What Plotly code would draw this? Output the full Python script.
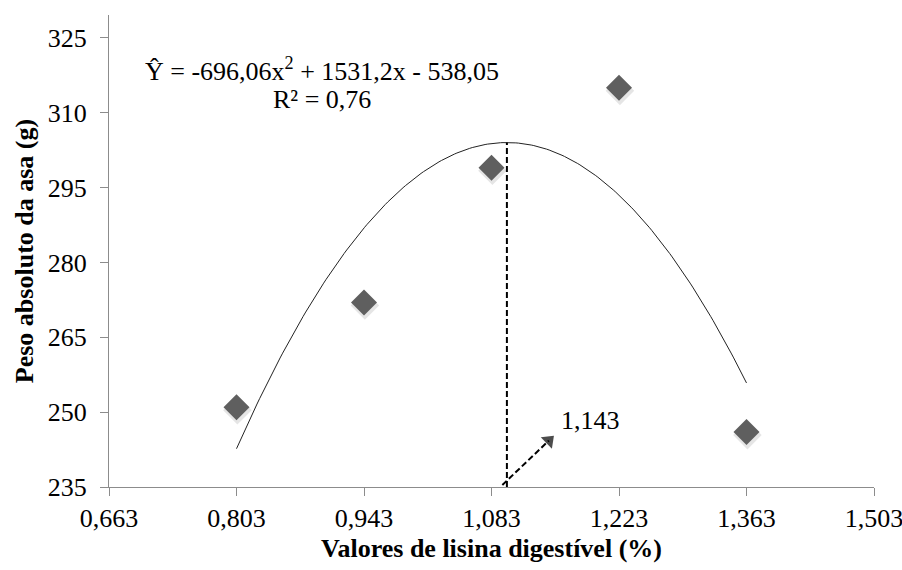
import numpy as np
import plotly.graph_objects as go

# Observed means
lisina = [0.803, 0.943, 1.083, 1.223, 1.363]
peso_asa = [251, 272, 299, 315, 246]

# Quadratic fit coefficients (a x^2 + b x + c)
coef_a, coef_b, coef_c = -696.06, 1531.2, -538.05
r2_text = "R² = 0,76"
eq_text = "Ŷ = -696,06x<sup>2</sup> + 1531,2x - 538,05"

# Axis ticks
x_ticks = [0.663, 0.803, 0.943, 1.083, 1.223, 1.363, 1.503]
x_ticktext = ["0,663", "0,803", "0,943", "1,083", "1,223", "1,363", "1,503"]
y_ticks = [235, 250, 265, 280, 295, 310, 325]

# Optimum marker label
opt_label = "1,143"

xs = np.linspace(min(lisina), max(lisina), 200)
ys = coef_a * xs**2 + coef_b * xs + coef_c
x_vertex = -coef_b / (2 * coef_a)
y_vertex = coef_a * x_vertex**2 + coef_b * x_vertex + coef_c

serif = "Liberation Serif, Times New Roman, serif"
axis_col = "#8c8c8c"
fs = 26
dash_style = "6px,3px"

fig = go.Figure()

# fitted curve
fig.add_trace(go.Scatter(x=xs, y=ys, mode="lines",
                         line=dict(color="#222222", width=1), hoverinfo="skip"))

# soft shadow under the markers
fig.add_trace(go.Scatter(x=[v + 0.001 for v in lisina], y=[v - 0.6 for v in peso_asa],
                         mode="markers",
                         marker=dict(symbol="diamond", size=22, color="rgba(0,0,0,0.10)",
                                     line=dict(width=0)), hoverinfo="skip"))
# data points
fig.add_trace(go.Scatter(x=lisina, y=peso_asa, mode="markers",
                         marker=dict(symbol="diamond", size=20, color="#5f5f5f",
                                     line=dict(width=0))))

# dashed vertical line at the maximum
fig.add_trace(go.Scatter(x=[x_vertex, x_vertex], y=[235, y_vertex], mode="lines",
                         line=dict(color="black", width=2, dash=dash_style), hoverinfo="skip"))

# dashed arrow pointing to the optimum label
fig.add_trace(go.Scatter(x=[x_vertex - 0.005, 1.146], y=[235.4, 244.3],
                         mode="lines+markers",
                         line=dict(color="black", width=2, dash=dash_style),
                         marker=dict(symbol="triangle-up", angleref="previous",
                                     size=[0, 14], color="black", line=dict(width=0)),
                         hoverinfo="skip"))
fig.add_annotation(x=1.157, y=248.3, xref="x", yref="y", text=opt_label,
                   showarrow=False, xanchor="left",
                   font=dict(family=serif, size=fs, color="black"))

# regression equation
fig.add_annotation(x=0.897, y=318.6, xref="x", yref="y", text=eq_text,
                   showarrow=False, xanchor="center",
                   font=dict(family=serif, size=fs, color="black"))
fig.add_annotation(x=0.897, y=312.6, xref="x", yref="y", text=r2_text,
                   showarrow=False, xanchor="center",
                   font=dict(family=serif, size=fs, color="black"))

fig.update_layout(
    width=902, height=570,
    margin=dict(l=109, r=28, t=15, b=83),
    plot_bgcolor="white", paper_bgcolor="white",
    showlegend=False,
    font=dict(family=serif, size=fs, color="black"),
)
fig.update_xaxes(
    range=[0.663, 1.503], tickvals=x_ticks, ticktext=x_ticktext, automargin=False,
    showgrid=False, zeroline=False, showline=True, linecolor=axis_col, linewidth=1,
    ticks="outside", ticklen=8, tickcolor=axis_col, ticklabeloverflow="allow",
    tickfont=dict(family=serif, size=fs, color="black"),
    title=dict(text="<b>Valores de lisina digestível (%)</b>", standoff=6,
               font=dict(family=serif, size=fs, color="black")),
)
fig.update_yaxes(
    range=[235, 329.6], tickvals=y_ticks, automargin=False,
    showgrid=False, zeroline=False, showline=True, linecolor=axis_col, linewidth=1,
    ticks="outside", ticklen=8, tickcolor=axis_col, ticklabelstandoff=8,
    tickfont=dict(family=serif, size=fs, color="black"),
    title=dict(text="<b>Peso absoluto da asa (g)</b>", standoff=6,
               font=dict(family=serif, size=fs, color="black")),
)

fig.write_html("out.html")
